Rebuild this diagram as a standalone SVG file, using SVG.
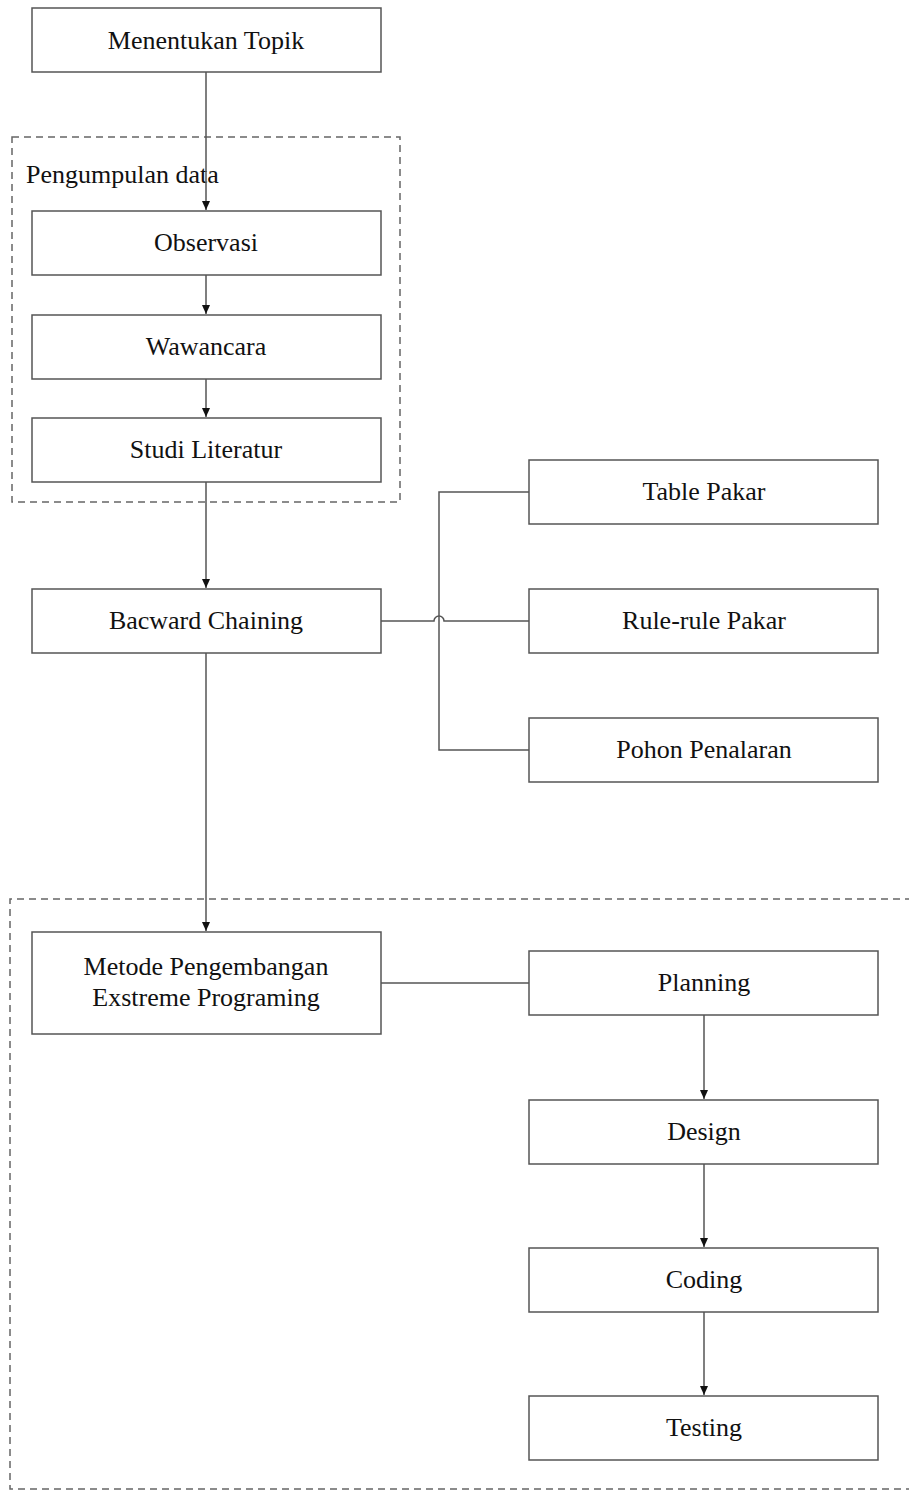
<svg xmlns="http://www.w3.org/2000/svg" width="909" height="1491" viewBox="0 0 909 1491">
<style>
.box{fill:#fff;stroke:#555;stroke-width:1.5}
.dash{fill:none;stroke:#666;stroke-width:1.5;stroke-dasharray:7 5}
.line{fill:none;stroke:#555;stroke-width:1.5}
.t{font-family:'Liberation Serif','Times New Roman',Tinos,'DejaVu Serif',serif;font-size:26px;fill:#111;text-anchor:middle}
</style>
<defs>
<marker id="ah" markerWidth="10" markerHeight="10" refX="9" refY="5" orient="auto" markerUnits="userSpaceOnUse">
<path d="M0,1 L9,5 L0,9 z" fill="#111"/>
</marker>
</defs>
<rect width="909" height="1491" fill="#fff"/>
<g id="group-pengumpulan">
<rect class="dash" x="12" y="137" width="388" height="365"/>
<text class="t" x="26" y="183" style="text-anchor:start">Pengumpulan data</text>
</g>
<g id="group-xp">
<path class="dash" d="M912,899 H10 V1489 H912"/>
</g>
<g id="connectors">
<line class="line" x1="206" y1="72" x2="206" y2="210" marker-end="url(#ah)"/>
<line class="line" x1="206" y1="275" x2="206" y2="314" marker-end="url(#ah)"/>
<line class="line" x1="206" y1="379" x2="206" y2="417" marker-end="url(#ah)"/>
<line class="line" x1="206" y1="482" x2="206" y2="588" marker-end="url(#ah)"/>
<line class="line" x1="206" y1="653" x2="206" y2="931" marker-end="url(#ah)"/>
<path class="line" d="M381,621 H434 A5,5 0 0 1 444,621 H529"/>
<path class="line" d="M529,492 H439 V750 H529"/>
<line class="line" x1="381" y1="983" x2="529" y2="983"/>
<line class="line" x1="704" y1="1015" x2="704" y2="1099" marker-end="url(#ah)"/>
<line class="line" x1="704" y1="1164" x2="704" y2="1247" marker-end="url(#ah)"/>
<line class="line" x1="704" y1="1312" x2="704" y2="1395" marker-end="url(#ah)"/>
</g>
<g id="menentukan-topik"><rect class="box" x="32" y="8" width="349" height="64"/><text class="t" x="206" y="49">Menentukan Topik</text></g>
<g id="observasi"><rect class="box" x="32" y="211" width="349" height="64"/><text class="t" x="206" y="251">Observasi</text></g>
<g id="wawancara"><rect class="box" x="32" y="315" width="349" height="64"/><text class="t" x="206" y="355">Wawancara</text></g>
<g id="studi-literatur"><rect class="box" x="32" y="418" width="349" height="64"/><text class="t" x="206" y="458">Studi Literatur</text></g>
<g id="bacward-chaining"><rect class="box" x="32" y="589" width="349" height="64"/><text class="t" x="206" y="629">Bacward Chaining</text></g>
<g id="table-pakar"><rect class="box" x="529" y="460" width="349" height="64"/><text class="t" x="704" y="500">Table Pakar</text></g>
<g id="rule-rule-pakar"><rect class="box" x="529" y="589" width="349" height="64"/><text class="t" x="704" y="629">Rule-rule Pakar</text></g>
<g id="pohon-penalaran"><rect class="box" x="529" y="718" width="349" height="64"/><text class="t" x="704" y="758">Pohon Penalaran</text></g>
<g id="metode"><rect class="box" x="32" y="932" width="349" height="102"/><text class="t" x="206" y="975">Metode Pengembangan</text><text class="t" x="206" y="1006">Exstreme Programing</text></g>
<g id="planning"><rect class="box" x="529" y="951" width="349" height="64"/><text class="t" x="704" y="991">Planning</text></g>
<g id="design"><rect class="box" x="529" y="1100" width="349" height="64"/><text class="t" x="704" y="1140">Design</text></g>
<g id="coding"><rect class="box" x="529" y="1248" width="349" height="64"/><text class="t" x="704" y="1288">Coding</text></g>
<g id="testing"><rect class="box" x="529" y="1396" width="349" height="64"/><text class="t" x="704" y="1436">Testing</text></g>
</svg>
